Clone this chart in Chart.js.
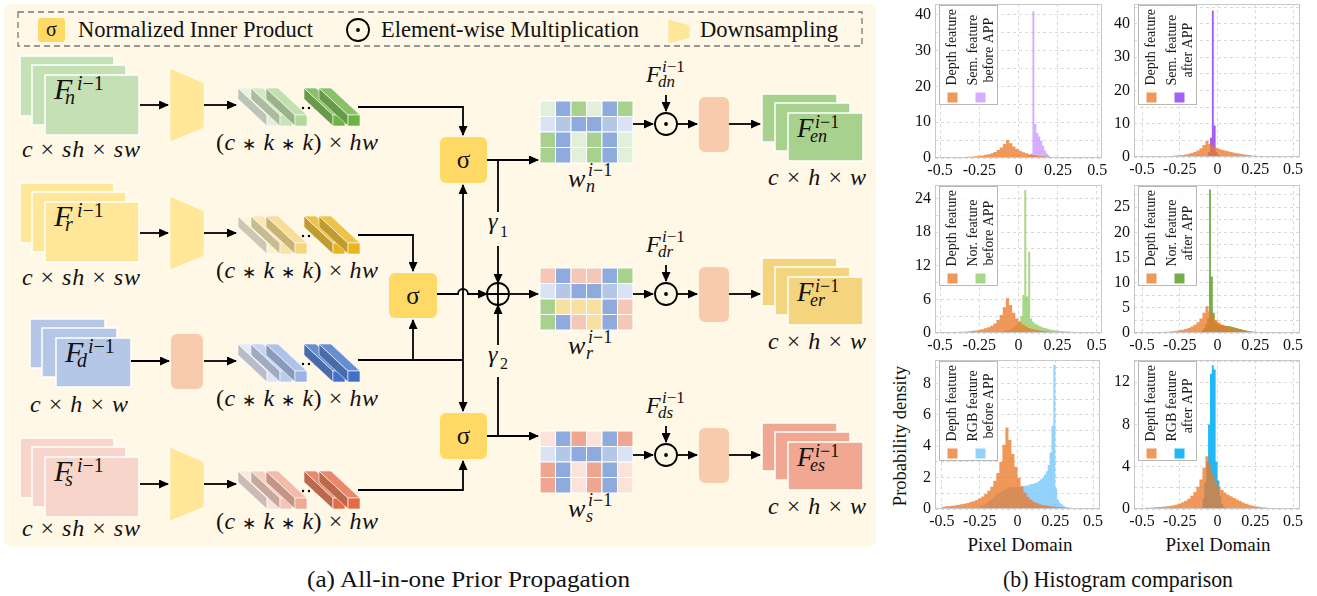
<!DOCTYPE html>
<html>
<head>
<meta charset="utf-8">
<title>All-in-one Prior Propagation / Histogram comparison</title>
<script src="https://cdn.jsdelivr.net/npm/chart.js@4.4.1/dist/chart.umd.min.js"></script>
<style>
  body { margin: 0; background: #fff; width: 1317px; height: 596px; position: relative; overflow: hidden; }
  #diagram { position: absolute; left: 0; top: 0; }
  canvas { position: absolute; }
</style>
</head>
<body>
<svg id="diagram" width="1317" height="596" xmlns="http://www.w3.org/2000/svg"></svg>
<script>
// Histogram data (probability density per bin)
const xTicks = [-0.5, -0.25, 0, 0.25, 0.5];
const depthStart = -0.5;
const depthBin = 0.02;
const peakBin = 0.0125;

const depthSemBefore = [0.12, 0.13, 0.15, 0.17, 0.19, 0.22, 0.25, 0.28, 0.32, 0.37,
  0.43, 0.5, 0.6, 0.72, 0.88, 1.08, 1.35, 1.7, 2.2, 2.9,
  3.9, 5.0, 4.1, 3.2, 2.5, 2.0, 1.6, 1.3, 1.05, 0.85,
  0.7, 0.57, 0.47, 0.39, 0.32, 0.26, 0.21, 0.17, 0.14, 0.12,
  0.1, 0.09, 0.08, 0.07, 0.06, 0.05, 0.05, 0.04, 0.04, 0.03];
const depthSemAfter = [0.1, 0.11, 0.12, 0.14, 0.16, 0.18, 0.2, 0.23, 0.27, 0.31,
  0.36, 0.43, 0.52, 0.63, 0.78, 0.97, 1.2, 1.5, 1.95, 2.6,
  3.6, 4.8, 3.9, 3.2, 2.8, 2.5, 2.2, 1.95, 1.7, 1.5,
  1.3, 1.1, 0.95, 0.8, 0.68, 0.57, 0.47, 0.39, 0.32, 0.26,
  0.21, 0.17, 0.14, 0.12, 0.1, 0.08, 0.07, 0.06, 0.05, 0.04];
const depthNorBefore = [0.1, 0.11, 0.12, 0.14, 0.16, 0.18, 0.21, 0.24, 0.28, 0.33,
  0.39, 0.46, 0.55, 0.67, 0.83, 1.03, 1.3, 1.7, 2.3, 3.2,
  4.6, 6.2, 5.0, 3.6, 2.6, 1.95, 1.5, 1.15, 0.9, 0.72,
  0.58, 0.47, 0.38, 0.31, 0.26, 0.22, 0.19, 0.16, 0.14, 0.12,
  0.1, 0.09, 0.08, 0.07, 0.06, 0.05, 0.05, 0.04, 0.04, 0.03];
const depthNorAfter = [0.1, 0.11, 0.12, 0.14, 0.16, 0.18, 0.2, 0.23, 0.27, 0.31,
  0.37, 0.44, 0.53, 0.65, 0.8, 1.0, 1.3, 1.65, 2.15, 2.9,
  4.0, 5.3, 4.3, 3.3, 2.6, 2.1, 1.7, 1.45, 1.25, 1.08,
  0.92, 0.78, 0.65, 0.54, 0.45, 0.37, 0.3, 0.25, 0.2, 0.16,
  0.13, 0.11, 0.09, 0.08, 0.07, 0.06, 0.05, 0.04, 0.04, 0.03];
const depthRgbBefore = [0.15, 0.17, 0.19, 0.21, 0.24, 0.27, 0.3, 0.34, 0.39, 0.44,
  0.5, 0.58, 0.68, 0.8, 0.96, 1.16, 1.42, 1.8, 2.3, 3.0,
  4.1, 5.2, 4.4, 3.5, 2.7, 2.0, 1.45, 1.05, 0.78, 0.6,
  0.47, 0.38, 0.31, 0.26, 0.22, 0.19, 0.16, 0.14, 0.12, 0.11,
  0.1, 0.09, 0.08, 0.07, 0.06, 0.05, 0.05, 0.04, 0.04, 0.03];
const depthRgbAfter = [0.1, 0.11, 0.12, 0.14, 0.16, 0.18, 0.2, 0.23, 0.27, 0.31,
  0.36, 0.43, 0.52, 0.63, 0.78, 0.98, 1.25, 1.6, 2.1, 2.8,
  3.9, 5.0, 4.2, 3.3, 2.6, 2.1, 1.8, 1.55, 1.35, 1.2,
  1.05, 0.9, 0.75, 0.62, 0.5, 0.4, 0.32, 0.26, 0.21, 0.17,
  0.14, 0.12, 0.1, 0.08, 0.07, 0.06, 0.05, 0.04, 0.04, 0.03];

const semBeforeStart = 0.05;
const semBefore = [0.3, 0.6, 1.2, 41, 9.5, 7, 6, 4.8, 3.4, 2.1, 1.2, 0.6, 0.3, 0.15, 0.08];
const semAfterStart = -0.075;
const semAfter = [0.4, 1.5, 5.8, 44, 9.5, 1.5, 0.5, 0.2];
const norBeforeStart = -0.1;
const norBefore = [0.3, 0.4, 0.5, 0.6, 0.8, 1.0, 1.3, 1.7,
  2.2, 3.0, 6.8, 25.5, 6.5, 14.5, 2.6, 2.0,
  1.7, 1.5, 1.3, 1.15, 1.0, 0.9, 0.8, 0.7,
  0.6, 0.55, 0.5, 0.45, 0.4, 0.37, 0.34, 0.31,
  0.28, 0.26, 0.24, 0.22, 0.2, 0.18, 0.17, 0.15,
  0.14, 0.13, 0.12, 0.11, 0.1, 0.09, 0.08, 0.07];
const norAfterStart = -0.10625;
const norAfter = [0.6, 1.0, 1.8, 3.0, 28.5, 11.2, 4.0, 2.4, 1.9, 1.7, 1.6, 1.5, 1.45, 1.4, 1.35,
  1.3, 1.2, 1.1, 1.0, 0.9, 0.8, 0.7, 0.6, 0.5, 0.4, 0.32, 0.25, 0.2, 0.15, 0.1];
const rgbBeforeStart = -0.25;
const rgbBefore = [0.15, 0.2, 0.3, 0.35, 0.45, 0.55, 0.65, 0.75, 0.85, 0.95,
  1.05, 1.1, 1.2, 1.25, 1.3, 1.35, 1.4, 1.4, 1.4, 1.4,
  1.4, 1.4, 1.45, 1.45, 1.5, 1.5, 1.55, 1.6, 1.6, 1.65,
  1.7, 1.8, 1.9, 2.0, 2.2, 2.4, 2.8, 3.6, 5.3, 9.2,
  1.3, 0.6, 0.4, 0.3, 0.2, 0.12, 0.08, 0.05];
const rgbAfterStart = -0.1;
const rgbAfter = [1.0, 2.5, 4.5, 8.0, 12.8, 13.6, 13.2, 4.5, 2.7, 1.2, 0.5, 0.2];

const yTicksSem = [0, 10, 20, 30, 40];
const yTicksNorBefore = [0, 6, 12, 18, 24];
const yTicksNorAfter = [0, 5, 10, 15, 20, 25];
const yTicksRgbBefore = [0, 2, 4, 6, 8];
const yTicksRgbAfter = [0, 4, 8, 12];

const ORANGE = 'rgba(236,122,44,0.78)';
const SERIF = 'Liberation Serif';

// Panel layout: plot box [left, top, right, bottom] in page pixels
const panels = [
  { box: [935, 4, 1102, 158], xr: [-0.532, 0.53], yMax: 43, yTicks: yTicksSem,
    feat: { label: 'Sem. feature\nbefore APP', start: semBeforeStart, values: semBefore, color: 'rgba(185,120,255,0.6)' },
    depth: depthSemBefore },
  { box: [1134, 4, 1300, 157], xr: [-0.553, 0.546], yMax: 46, yTicks: yTicksSem,
    feat: { label: 'Sem. feature\nafter APP', start: semAfterStart, values: semAfter, color: 'rgba(155,75,245,0.9)' },
    depth: depthSemAfter },
  { box: [935, 185, 1102, 333], xr: [-0.532, 0.533], yMax: 26.4, yTicks: yTicksNorBefore,
    feat: { label: 'Nor. feature\nbefore APP', start: norBeforeStart, values: norBefore, color: 'rgba(140,200,95,0.75)' },
    depth: depthNorBefore },
  { box: [1134, 185, 1300, 333], xr: [-0.553, 0.546], yMax: 29.4, yTicks: yTicksNorAfter,
    feat: { label: 'Nor. feature\nafter APP', start: norAfterStart, values: norAfter, color: 'rgba(100,165,55,0.9)' },
    depth: depthNorAfter },
  { box: [935, 360, 1100, 509], xr: [-0.546, 0.546], yMax: 9.5, yTicks: yTicksRgbBefore,
    feat: { label: 'RGB feature\nbefore APP', start: rgbBeforeStart, values: rgbBefore, color: 'rgba(120,200,250,0.8)' },
    depth: depthRgbBefore },
  { box: [1134, 360, 1300, 509], xr: [-0.553, 0.546], yMax: 14.1, yTicks: yTicksRgbAfter,
    feat: { label: 'RGB feature\nafter APP', start: rgbAfterStart, values: rgbAfter, color: 'rgba(20,180,245,0.95)' },
    depth: depthRgbAfter }
];

Chart.defaults.font.family = SERIF;

// step outline of a histogram, filled down to zero
function histPoints(start, width, values) {
  const pts = [{ x: start, y: 0 }];
  values.forEach((v, i) => pts.push({ x: start + i * width, y: v }));
  pts.push({ x: start + values.length * width, y: 0 });
  return pts;
}

const fmt = v => String(v);

// Frame round the plot and the boxed legend with rotated labels
const frameLegend = {
  id: 'frameLegend',
  afterDatasetsDraw(chart) {
    const { ctx, chartArea: a } = chart;
    ctx.save();
    ctx.strokeStyle = '#c8c8c8';
    ctx.lineWidth = 1;
    ctx.strokeRect(a.left + 0.5, a.top + 0.5, a.width - 1, a.height - 1);

    const bx = a.left + 4.5, by = a.top + 1.5;
    ctx.fillStyle = 'rgba(255,255,255,0.8)';
    ctx.fillRect(bx, by, 58, 99);
    ctx.strokeStyle = '#b8b8b8';
    ctx.strokeRect(bx, by, 58, 99);

    const cols = [[13], [34, 50]];
    const squares = [8, 36];
    ctx.font = `14px "${SERIF}"`;
    ctx.textAlign = 'center';
    ctx.textBaseline = 'middle';
    chart.data.datasets.forEach((ds, i) => {
      const lines = ds.label.split('\n');
      const w = Math.max(...lines.map(s => ctx.measureText(s).width));
      const cy = by + 80 - w / 2;
      ctx.fillStyle = '#1a1a1a';
      lines.forEach((s, j) => {
        ctx.save();
        ctx.translate(bx + cols[i][j], cy);
        ctx.rotate(-Math.PI / 2);
        ctx.fillText(s, 0, 0);
        ctx.restore();
      });
      ctx.fillStyle = ds.backgroundColor;
      ctx.fillRect(bx + squares[i], by + 87, 10, 10);
    });
    ctx.restore();
  }
};

function makeChart(p) {
  const [l, t, r, b] = p.box;
  const canvas = document.createElement('canvas');
  canvas.width = r - l + 53;
  canvas.height = b - t + 28;
  canvas.style.left = (l - 45) + 'px';
  canvas.style.top = (t - 4) + 'px';
  document.body.appendChild(canvas);

  const half = (p.yTicks[1] - p.yTicks[0]) / 2;
  const yGrid = [];
  p.yTicks.forEach(v => { yGrid.push(v); if (v + half < p.yMax) yGrid.push(v + half); });

  new Chart(canvas, {
    type: 'line',
    data: {
      datasets: [
        { label: 'Depth feature', data: histPoints(depthStart, depthBin, p.depth), backgroundColor: ORANGE },
        { label: p.feat.label, data: histPoints(p.feat.start, peakBin, p.feat.values), backgroundColor: p.feat.color }
      ].map(d => Object.assign(d, { fill: 'origin', stepped: true, pointRadius: 0, borderWidth: 0, borderColor: 'transparent' }))
    },
    options: {
      responsive: false,
      animation: false,
      layout: { padding: { top: 4, right: 8, left: 0, bottom: 0 } },
      plugins: { legend: { display: false }, tooltip: { enabled: false } },
      scales: {
        x: {
          type: 'linear', min: p.xr[0], max: p.xr[1],
          afterBuildTicks: s => { s.ticks = xTicks.map(v => ({ value: v })); },
          afterFit: s => { s.height = 24; s.paddingLeft = 0; s.paddingRight = 0; },
          ticks: { callback: fmt, color: '#111', font: { family: SERIF, size: 16 }, padding: 3, maxRotation: 0, autoSkip: false },
          grid: { color: '#d9d9d9', drawTicks: false },
          border: { display: false, dash: [3, 3] }
        },
        y: {
          min: 0, max: p.yMax,
          afterBuildTicks: s => { s.ticks = yGrid.map(v => ({ value: v })); },
          afterFit: s => { s.width = 45; s.paddingTop = 0; s.paddingBottom = 0; },
          ticks: { callback: v => (p.yTicks.includes(v) ? String(v) : ''), color: '#111', font: { family: SERIF, size: 16 }, padding: 4, autoSkip: false },
          grid: { color: '#d9d9d9', drawTicks: false },
          border: { display: false, dash: [3, 3] }
        }
      }
    },
    plugins: [frameLegend]
  });
}

panels.forEach(makeChart);

// Diagram (a), drawn as plain SVG shapes
const parts = [];
const add = s => parts.push(s);
const it = s => `<tspan font-style="italic">${s}</tspan>`;
const star = '<tspan font-size="17">\u2217</tspan>';

function rect(x, y, w, h, fill, extra = '') {
  add(`<rect x="${x}" y="${y}" width="${w}" height="${h}" fill="${fill}" ${extra}/>`);
}
function poly(pts, fill) {
  add(`<polygon points="${pts.map(q => q.join(',')).join(' ')}" fill="${fill}" stroke="#fff" stroke-width="0.6"/>`);
}
function path(d, arrow) {
  add(`<path d="${d}" fill="none" stroke="#000" stroke-width="1.8"${arrow ? ' marker-end="url(#ah)"' : ''}/>`);
}
function text(x, y, size, content, extra = '') {
  add(`<text x="${x}" y="${y}" font-family="${SERIF}" font-size="${size}" fill="#111" ${extra}>${content}</text>`);
}
function mix(hex, toward, t) {
  const a = parseInt(hex.slice(1), 16), b = parseInt(toward.slice(1), 16);
  const ch = s => Math.round(((a >> s) & 255) * (1 - t) + ((b >> s) & 255) * t);
  return `rgb(${ch(16)},${ch(8)},${ch(0)})`;
}
function sigma(x, y, w, h) {
  rect(x, y, w, h, '#FFD966', 'rx="6"');
  text(x + w / 2, y + h / 2 + 8, 25, '\u03c3', 'text-anchor="middle"');
}
function odot(cx, cy) {
  add(`<circle cx="${cx}" cy="${cy}" r="11" fill="none" stroke="#000" stroke-width="1.8"/>`);
  add(`<circle cx="${cx}" cy="${cy}" r="1.9" fill="#000"/>`);
}
function sheets(x, y, w, h, offs, fill) {
  offs.forEach(([dx, dy]) => rect(x + dx, y + dy, w, h, fill, 'stroke="#fff" stroke-width="1.5"'));
}
function supSub(x, y, base, baseSize, sub, dxSup, dySup, dxSub, dySub, small) {
  text(x, y, baseSize, it(base));
  text(x + dxSup, y + dySup, small, it('i') + '\u22121');
  text(x + dxSub, y + dySub, small, it(sub));
}
function kernelBars(top, fronts) {
  const xs = [238, 251, 266, 304, 319];
  xs.forEach((x, i) => {
    if (i === 3) [303, 309, 315].forEach(cx => add(`<circle cx="${cx}" cy="${top + 20}" r="1.2" fill="#000"/>`));
    const fx = x + 29, fy = top + 27, c = fronts[i];
    poly([[fx, fy], [fx, fy + 11], [x, top + 11], [x, top]], mix(c, '#606060', 0.3));
    poly([[fx, fy], [fx + 12, fy], [x + 12, top], [x, top]], mix(c, '#ffffff', 0.2));
    rect(fx, fy, 12, 11, c, 'stroke="#fff" stroke-width="0.6"');
  });
}

const palette = { LG: '#E2EFDA', G: '#A9D18E', B: '#8FAADC', LB: '#DAE3F3', MB: '#B4C7E7',
  P: '#F4C7B7', Y: '#F8E1A0', LP: '#FBE3DC', S: '#EEA690' };
const matN = ['LG B G LG B G', 'LB MB B B MB LB', 'G B LG G B LG', 'G B LG G B LG'];
const matR = ['P B P P B G', 'LB MB B B MB LB', 'G Y Y Y B P', 'G B P Y B P'];
const matS = ['LP B S LP B S', 'LB MB B B MB LB', 'S B LP S B LP', 'S B LP S B LP'];
function matrix(x, y, rows) {
  rows.forEach((row, r) => row.split(' ').forEach((c, k) =>
    rect(x + k * 15.5, y + r * 15.5, 15.5, 15.5, palette[c], 'stroke="#fff" stroke-width="1"')));
}

// background panel and dashed legend
rect(4, 4, 872, 543, '#FFF8E6', 'rx="8"');
rect(18, 12, 844, 34, 'none', 'stroke="#777" stroke-width="1.3" stroke-dasharray="6,4"');
rect(38, 18, 27, 24, '#FFD966', 'rx="3"');
text(51.5, 36, 20, '\u03c3', 'text-anchor="middle"');
text(78, 37, 22.5, 'Normalized Inner Product', 'textLength="235" lengthAdjust="spacingAndGlyphs"');
odot(358, 30);
text(381, 37, 22.5, 'Element-wise Multiplication', 'textLength="258" lengthAdjust="spacingAndGlyphs"');
poly([[668, 19], [690, 25], [690, 38], [668, 44]], '#FFE699');
text(700, 37, 22.5, 'Downsampling', 'textLength="138" lengthAdjust="spacingAndGlyphs"');

// input rows
const dimsBig = `${it('c')} \u00d7 ${it('sh')} \u00d7 ${it('sw')}`;
const dimsSmall = `${it('c')} \u00d7 ${it('h')} \u00d7 ${it('w')}`;
const dimsKernel = `(${it('c')} ${star} ${it('k')} ${star} ${it('k')}) \u00d7 ${it('hw')}`;
const inRows = [
  { yc: 105, sheetY: 56, fill: '#C5E0B4', sub: 'n', barTop: 88,
    fronts: ['#E2EFDA', '#C9E2B8', '#B2D89A', '#6CB340', '#6CB340'] },
  { yc: 233, sheetY: 183, fill: '#FFE699', sub: 'r', barTop: 216,
    fronts: ['#FCF1D2', '#F8E3A6', '#F5D67E', '#E9B41C', '#E9B41C'] },
  { yc: 361, sheetY: 319, fill: '#B4C7E7', sub: 'd', barTop: 344, small: true,
    fronts: ['#DCE4F4', '#BACBEC', '#9BB4E5', '#4170C8', '#4170C8'] },
  { yc: 484, sheetY: 438, fill: '#F8D5CB', sub: 's', barTop: 471,
    fronts: ['#FAE1DA', '#F4C5B6', '#EFAA96', '#E36C44', '#E36C44'] }
];
inRows.forEach(row => {
  const yc = row.yc;
  if (row.small) {
    sheets(30, row.sheetY, 75, 49, [[0, 0], [12, 9], [26, 19]], row.fill);
    supSub(65, row.sheetY + 43, 'F', 30, row.sub, 23, -9, 12, 5, 20);
    text(30, yc + 51, 24, dimsSmall, 'textLength="98" lengthAdjust="spacing"');
    path(`M131 ${yc} H169`, true);
    rect(171, yc - 27, 32, 55, '#F8CBAD', 'rx="6"');
  } else {
    sheets(20, row.sheetY, 94, 60, [[0, 0], [12, 9], [25, 19]], row.fill);
    supSub(54, row.sheetY + 43, 'F', 30, row.sub, 23, -9, 11, 5, 20);
    text(22, yc + 52, 24, dimsBig, 'textLength="118" lengthAdjust="spacing"');
    path(`M140 ${yc} H168`, true);
    poly([[170, yc - 37], [204, yc - 22], [204, yc + 23], [170, yc + 37]], '#FFE699');
  }
  path(`M204 ${yc} H236`, true);
  kernelBars(row.barTop, row.fronts);
  text(216, yc + 45, 24, dimsKernel, 'textLength="162" lengthAdjust="spacing"');
});

// connections to the normalized inner products
path('M358 107 H463 V135', true);
path('M358 235 H413 V271', true);
path('M358 360 H463');
path('M413 360 V320', true);
path('M463 360 V185', true);
path('M463 360 V411', true);
path('M358 490 H463 V461', true);
sigma(440, 137, 47, 46);
sigma(389, 273, 48, 45);
sigma(440, 413, 47, 46);

path('M487 160 H538', true);
path('M498 160 V212');
path('M498 246 V283', true);
path('M437 294 H458 A5 5 0 0 1 468 294 H487', true);
add('<circle cx="498" cy="294" r="11" fill="none" stroke="#000" stroke-width="1.8"/>');
path('M487 294 H509 M498 283 V305');
path('M509 294 H538', true);
path('M487 436 H538', true);
path('M498 436 V377');
path('M498 345 V305', true);
text(488, 229, 24, it('\u03b3'));
text(500, 237, 16, '1');
text(488, 362, 24, it('\u03b3'));
text(500, 369, 16, '2');

// output rows
const outRows = [
  { my: 101, oy: 124, ob: 94, mat: matN, fill: '#A9D18E', s: 'n' },
  { my: 268, oy: 294, ob: 258, mat: matR, fill: '#F4D47C', s: 'r' },
  { my: 431, oy: 455, ob: 423, mat: matS, fill: '#F0A892', s: 's' }
];
outRows.forEach(o => {
  matrix(540, o.my, o.mat);
  supSub(568, o.my + 86, 'w', 26, o.s, 20, -11, 18, 5, 18);
  path(`M633 ${o.oy} H653`, true);
  odot(666, o.oy);
  supSub(646, o.oy - 42, 'F', 24, 'd' + o.s, 16, -10, 12, 5, 17);
  path(`M666 ${o.oy - 29} V${o.oy - 13}`, true);
  path(`M677 ${o.oy} H697`, true);
  rect(699, o.oy - 27, 30, 55, '#F8CBAD', 'rx="6"');
  path(`M729 ${o.oy} H760`, true);
  sheets(762, o.ob, 75, 48, [[0, 0], [13, 9], [26, 19]], o.fill);
  supSub(797, o.ob + 43, 'F', 27, 'e' + o.s, 18, -9, 13, 5, 18);
  text(768, o.ob + 91, 24, dimsSmall, 'textLength="98" lengthAdjust="spacing"');
});

// captions and axis labels of (b)
text(307, 587, 24, '(a) All-in-one Prior Propagation', 'textLength="323" lengthAdjust="spacingAndGlyphs"');
text(1003, 587, 24, '(b) Histogram comparison', 'textLength="230" lengthAdjust="spacingAndGlyphs"');
text(1020, 551, 19, 'Pixel Domain', 'text-anchor="middle"');
text(1218, 551, 19, 'Pixel Domain', 'text-anchor="middle"');
text(0, 0, 18.5, 'Probability density', 'text-anchor="middle" transform="translate(906 436) rotate(-90)"');

const defs = '<defs><marker id="ah" markerUnits="userSpaceOnUse" markerWidth="10" markerHeight="9" refX="9" refY="4.5" orient="auto">' +
  '<path d="M0,0 L10,4.5 L0,9 z" fill="#000"/></marker></defs>';
document.getElementById('diagram').innerHTML = defs + parts.join('');
</script>
</body>
</html>
